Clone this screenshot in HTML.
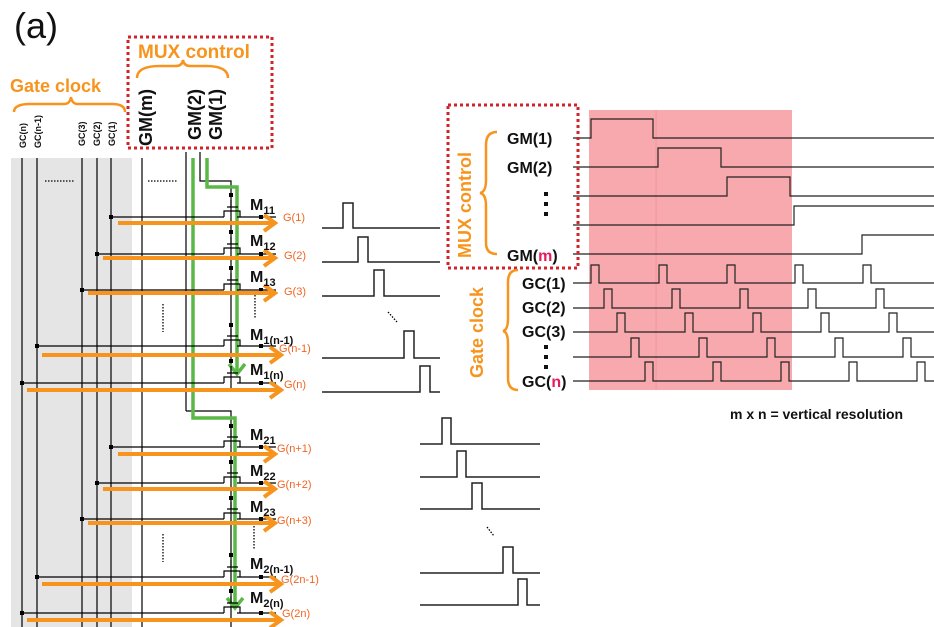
<!DOCTYPE html>
<html><head><meta charset="utf-8"><style>
body{margin:0;background:#fff}
svg{display:block;font-family:"Liberation Sans",Arial,sans-serif}
</style></head><body>
<svg width="934" height="627" viewBox="0 0 934 627" xmlns="http://www.w3.org/2000/svg">
<defs>
<marker id="oa" markerWidth="6" markerHeight="6" refX="3" refY="3" orient="auto" markerUnits="userSpaceOnUse" viewBox="0 0 6 6"><path d="M0,0 L3,3 L0,6" fill="none" stroke="#f7941d" stroke-width="1.4"/></marker>
</defs>
<rect x="0" y="0" width="934" height="627" fill="#fff"/>
<text x="14" y="38" font-size="36" fill="#111">(a)</text>
<!-- gray area -->
<rect x="11" y="158" width="121" height="469" fill="#e5e5e5"/>
<!-- top MUX control box -->
<rect x="128" y="37" width="144" height="111" fill="none" stroke="#d2232a" stroke-width="3" stroke-dasharray="3,3"/>
<text x="138" y="58" font-size="19" font-weight="bold" fill="#f7941d">MUX control</text>
<path d="M137,78 Q137,66 160,66 L176,66 Q182,66 183,60 Q184,66 190,66 L206,66 Q228,66 228,78" fill="none" stroke="#f7941d" stroke-width="2.5"/>
<text x="10" y="92" font-size="18" font-weight="bold" fill="#f7941d">Gate clock</text>
<path d="M14,112 Q14,104 30,104 L64,104 Q70,104 71,97 Q72,104 78,104 L112,104 Q125,104 125,112" fill="none" stroke="#f7941d" stroke-width="2.5"/>
<g font-weight="bold" fill="#111">
<text transform="translate(152,146) rotate(-90)" font-size="18">GM(m)</text>
<text transform="translate(201,140) rotate(-90)" font-size="18">GM(2)</text>
<text transform="translate(222,140) rotate(-90)" font-size="18">GM(1)</text>
<g font-size="9">
<text transform="translate(26,148) rotate(-90)">GC(n)</text>
<text transform="translate(41,148) rotate(-90)">GC(n-1)</text>
<text transform="translate(85,146) rotate(-90)">GC(3)</text>
<text transform="translate(100,146) rotate(-90)">GC(2)</text>
<text transform="translate(115,146) rotate(-90)">GC(1)</text>
</g></g>
<!-- vertical lines -->
<g stroke="#000" stroke-width="1.2" fill="none">
<line x1="22" y1="158" x2="22" y2="627"/>
<line x1="37" y1="158" x2="37" y2="627"/>
<line x1="82" y1="158" x2="82" y2="627"/>
<line x1="97" y1="158" x2="97" y2="627"/>
<line x1="111" y1="158" x2="111" y2="627"/>
<line x1="142" y1="158" x2="142" y2="627"/>
<line x1="186" y1="152" x2="186" y2="411"/>
<polyline points="186,411 231,411 231,627"/>
<polyline points="200,152 200,181 231,181 231,390"/>
</g>
<g stroke="#000" stroke-width="1.3" stroke-dasharray="1.5,1.5">
<line x1="45" y1="181" x2="75" y2="181"/><line x1="148" y1="181" x2="178" y2="181"/>
<line x1="163" y1="304" x2="163" y2="332"/><line x1="255" y1="295" x2="255" y2="318"/>
<line x1="163" y1="534" x2="163" y2="562"/><line x1="254" y1="526" x2="254" y2="549"/>
</g>
<!-- green paths -->
<g stroke="#5ab946" stroke-width="3.5" fill="none">
<polyline points="193,158 193,418 235,418 235,606"/>
<polyline points="207,158 207,187 237,187 237,372"/>
<polyline points="229,364 237,374 245,364"/>
<polyline points="227,598 235,608 243,598"/>
</g>
<!-- rows -->
<g id="rows">
</g>
<g stroke="#000" stroke-width="1.2" fill="none">
<!-- row template: gate line, transistor, output -->
<path d="M111,217H224 M97,254H224 M82,290H224 M37,346H224 M22,383H224 M111,447H224 M97,483H224 M82,519H224 M37,577H224 M22,613H224"/>
<path d="M237,217H276 M237,254H276 M237,290H276 M237,346H276 M237,383H276 M237,447H276 M237,483H276 M237,519H276 M237,577H276 M237,613H276"/>
<g id="tr">
<path d="M224,217V211H240V217 M227,207H238 M231,200V207"/>
<path d="M224,254V248H240V254 M227,244H238 M231,237V244"/>
<path d="M224,290V284H240V290 M227,280H238 M231,273V280"/>
<path d="M224,346V340H240V346 M227,336H238 M231,329V336"/>
<path d="M224,383V377H240V383 M227,373H238 M231,366V373"/>
<path d="M224,447V441H240V447 M227,437H238 M231,430V437"/>
<path d="M224,483V477H240V483 M227,473H238 M231,466V473"/>
<path d="M224,519V513H240V519 M227,509H238 M231,502V509"/>
<path d="M224,577V571H240V577 M227,567H238 M231,560V567"/>
<path d="M224,613V607H240V613 M227,603H238 M231,596V603"/>
</g></g>
<g fill="#000">
<rect x="109" y="215" width="4" height="4"/><rect x="95" y="252" width="4" height="4"/><rect x="80" y="288" width="4" height="4"/><rect x="35" y="344" width="4" height="4"/><rect x="20" y="381" width="4" height="4"/>
<rect x="109" y="445" width="4" height="4"/><rect x="95" y="481" width="4" height="4"/><rect x="80" y="517" width="4" height="4"/><rect x="35" y="575" width="4" height="4"/><rect x="20" y="611" width="4" height="4"/>
<rect x="259" y="215" width="4" height="4"/><rect x="259" y="252" width="4" height="4"/><rect x="259" y="288" width="4" height="4"/><rect x="259" y="344" width="4" height="4"/><rect x="259" y="381" width="4" height="4"/>
<rect x="259" y="445" width="4" height="4"/><rect x="259" y="481" width="4" height="4"/><rect x="259" y="517" width="4" height="4"/><rect x="259" y="575" width="4" height="4"/><rect x="259" y="611" width="4" height="4"/>
<rect x="229" y="193" width="4" height="4"/><rect x="229" y="230" width="4" height="4"/><rect x="229" y="266" width="4" height="4"/><rect x="229" y="323" width="4" height="4"/><rect x="229" y="359" width="4" height="4"/>
<rect x="229" y="424" width="4" height="4"/><rect x="229" y="460" width="4" height="4"/><rect x="229" y="496" width="4" height="4"/><rect x="229" y="553" width="4" height="4"/><rect x="229" y="589" width="4" height="4"/>
</g>
<!-- orange arrows -->
<g stroke="#f7941d" stroke-width="4" fill="none">
<path d="M118,223H274 M103,258H274 M88,293H274 M42,355H280 M27,390H280 M118,454H274 M103,489H274 M88,523H274 M42,584H280 M27,620H280"/>
<path d="M264,215L275,223L264,231 M264,250L275,258L264,266 M264,285L275,293L264,301 M270,347L281,355L270,363 M270,382L281,390L270,398 M264,446L275,454L264,462 M264,481L275,489L264,497 M264,515L275,523L264,531 M270,576L281,584L270,592 M270,612L281,620L270,628"/>
</g>
<g fill="#f26522" font-size="11">
<text x="283" y="221">G(1)</text><text x="284" y="259">G(2)</text><text x="284" y="295">G(3)</text><text x="279" y="352">G(n-1)</text><text x="284" y="388">G(n)</text>
<text x="277" y="452">G(n+1)</text><text x="277" y="488">G(n+2)</text><text x="277" y="524">G(n+3)</text><text x="281" y="583">G(2n-1)</text><text x="282" y="617">G(2n)</text>
</g>
<g font-weight="bold" fill="#111" font-size="16">
<text x="250" y="210">M<tspan font-size="11" dy="4">11</tspan></text>
<text x="250" y="246">M<tspan font-size="11" dy="4">12</tspan></text>
<text x="250" y="282">M<tspan font-size="11" dy="4">13</tspan></text>
<text x="250" y="340">M<tspan font-size="11" dy="4">1(n-1)</tspan></text>
<text x="250" y="375">M<tspan font-size="11" dy="4">1(n)</tspan></text>
<text x="250" y="440">M<tspan font-size="11" dy="4">21</tspan></text>
<text x="250" y="476">M<tspan font-size="11" dy="4">22</tspan></text>
<text x="250" y="512">M<tspan font-size="11" dy="4">23</tspan></text>
<text x="250" y="569">M<tspan font-size="11" dy="4">2(n-1)</tspan></text>
<text x="250" y="603">M<tspan font-size="11" dy="4">2(n)</tspan></text>
</g>
<!-- pulses middle -->
<g stroke="#222" stroke-width="1.5" fill="none">
<path d="M322,228H343V203H353V228H440"/>
<path d="M322,262H358V237H368V262H440"/>
<path d="M322,296H374V270H384V296H440"/>
<path d="M322,358H404V331H414V358H440"/>
<path d="M322,392H420V366H430V392H440"/>
<path d="M420,444H442V418H451V444H540"/>
<path d="M420,477H457V451H466V477H540"/>
<path d="M420,509H472V483H482V509H540"/>
<path d="M420,573H503V547H513V573H540"/>
<path d="M420,605H518V579H527V605H540"/>
</g>
<g stroke="#000" stroke-width="1.3" stroke-dasharray="1.5,1.5"><line x1="388" y1="312" x2="397" y2="322"/><line x1="487" y1="527" x2="494" y2="536"/></g>
<!-- right timing -->
<rect x="589" y="110" width="203" height="280" fill="#f7a9ad"/>
<line x1="656" y1="110" x2="656" y2="390" stroke="#f59096" stroke-width="0.8"/>
<g stroke="#222" stroke-width="1.2" fill="none">
<path d="M573,138H591V119H653V138H934"/>
<path d="M573,167H658V148H721V167H934"/>
<path d="M573,196H727V177H790V196H934"/>
<path d="M573,225H794V206H934"/>
<path d="M573,254H862V235H934"/>
<path d="M573,283H591V265H599V283H659V265H667V283H727V265H735V283H795V265H803V283H863V265H871V283H934"/>
<path d="M573,308H604V289H612V308H672V289H680V308H740V289H748V308H808V289H816V308H876V289H884V308H934"/>
<path d="M573,332H617V313H625V332H685V313H693V332H753V313H761V332H821V313H829V332H889V313H897V332H934"/>
<path d="M573,357H631V338H639V357H699V338H707V357H767V338H775V357H835V338H843V357H903V338H911V357H934"/>
<path d="M573,381H645V362H653V381H713V362H721V381H781V362H789V381H849V362H857V381H917V362H925V381H934"/>
</g>
<rect x="448" y="105" width="130" height="163" fill="none" stroke="#d2232a" stroke-width="3" stroke-dasharray="3,3"/>
<g font-weight="bold" fill="#111" font-size="16">
<text x="507" y="144">GM(1)</text>
<text x="507" y="173">GM(2)</text>
<text x="507" y="261">GM(<tspan fill="#e6195a">m</tspan>)</text>
<text x="522" y="289">GC(1)</text>
<text x="522" y="313">GC(2)</text>
<text x="522" y="337">GC(3)</text>
<text x="522" y="387">GC(<tspan fill="#e6195a">n</tspan>)</text>
</g>
<g fill="#111"><rect x="544" y="192" width="4" height="4"/><rect x="544" y="202" width="4" height="4"/><rect x="544" y="212" width="4" height="4"/>
<rect x="544" y="345" width="4" height="4"/><rect x="544" y="355" width="4" height="4"/><rect x="544" y="365" width="4" height="4"/></g>
<g font-weight="bold" fill="#f7941d" font-size="18">
<text transform="translate(471,258) rotate(-90)">MUX control</text>
<text transform="translate(483,378) rotate(-90)">Gate clock</text>
</g>
<path d="M497,132 Q486,132 486,145 L486,180 Q486,192 480,193 Q486,194 486,206 L486,243 Q486,254 497,254" fill="none" stroke="#f7941d" stroke-width="2.5"/>
<path d="M518,270 Q508,270 508,282 L508,318 Q508,330 503,331 Q508,332 508,344 L508,378 Q508,390 518,390" fill="none" stroke="#f7941d" stroke-width="2.5"/>
<text x="730" y="419" font-size="14" font-weight="bold" fill="#111">m x n = vertical resolution</text>
</svg>
</body></html>
